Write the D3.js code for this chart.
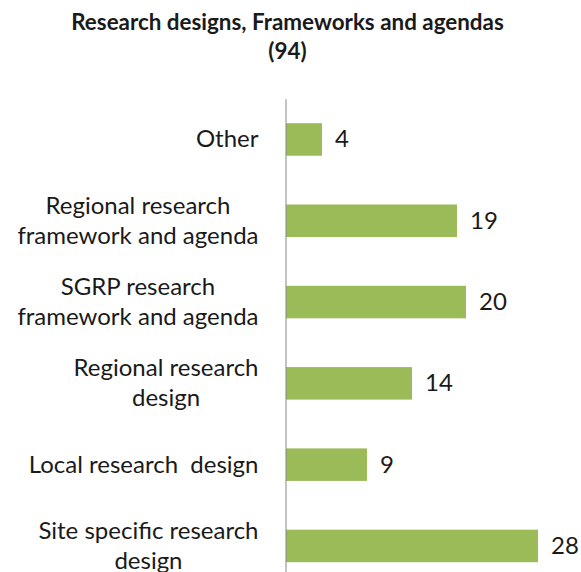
<!DOCTYPE html>
<html>
<head>
<meta charset="utf-8">
<script src="https://cdn.jsdelivr.net/npm/d3@7"></script>
<style>
  html, body { margin: 0; padding: 0; background: #fff; }
  svg { display: block; }
  text { font-family: Lato, "Open Sans", sans-serif; fill: #1a1a1a; }
</style>
</head>
<body>
<svg id="chart" width="581" height="572"></svg>
<script>
// Chart title (two lines)
const titleLines = ["Research designs, Frameworks and agendas", "(94)"];

// Categories, top to bottom; "\n" marks a line break in the axis label
const categories = [
  "Other",
  "Regional research\nframework and agenda",
  "SGRP research\nframework and agenda",
  "Regional research\ndesign",
  "Local research  design",
  "Site specific research\ndesign"
];

// Number of items per category
const counts = [4, 19, 20, 14, 9, 28];

const xDomainMax = 30;

const svg = d3.select("#chart");
const W = 581;

const plot = { left: 286, right: 556, top: 98.8, bottom: 586.6 };

const x = d3.scaleLinear().domain([0, xDomainMax]).range([plot.left, plot.right]);
const y = d3.scaleBand()
  .domain(categories)
  .range([plot.top, plot.bottom])
  .paddingInner(0.6)
  .paddingOuter(0.3);

// Title
svg.append("g")
  .selectAll("text")
  .data(titleLines)
  .join("text")
  .attr("x", W / 2 - 3)
  .attr("y", (d, i) => 30 + i * 29)
  .attr("text-anchor", "middle")
  .style("font-size", "22.4px")
  .style("font-weight", "bold")
  .text(d => d);

// Bars
svg.append("g")
  .selectAll("rect")
  .data(categories.map((c, i) => ({ cat: c, value: counts[i] })))
  .join("rect")
  .attr("x", x(0))
  .attr("y", d => y(d.cat))
  .attr("width", d => x(d.value) - x(0))
  .attr("height", y.bandwidth())
  .attr("fill", "#9bbb59");

// Value labels
svg.append("g")
  .selectAll("text")
  .data(categories.map((c, i) => ({ cat: c, value: counts[i] })))
  .join("text")
  .attr("x", d => x(d.value) + 13)
  .attr("y", d => y(d.cat) + y.bandwidth() / 2)
  .attr("dy", "0.33em")
  .style("font-size", "24px")
  .text(d => d.value);

// Category axis: plain vertical line, no ticks, wrapped labels
const pad = 27;
const axis = d3.axisLeft(y).tickSize(0).tickPadding(pad);
const axisG = svg.append("g")
  .attr("transform", `translate(${x(0) - 0.5},0)`)
  .call(axis);

axisG.select(".domain")
  .attr("stroke", "#868686")
  .attr("stroke-width", 1);

// Each label block is right-aligned to the axis; its lines are centred on one another
axisG.selectAll(".tick text")
  .style("font-size", "24px")
  .style("font-family", "Lato, 'Open Sans', sans-serif")
  .attr("fill", "#1a1a1a")
  .each(function (d) {
    const t = d3.select(this);
    const lines = d.split("\n");
    t.text(null).attr("dy", null).attr("x", null);
    const lh = 30;
    const start = -(lines.length - 1) * lh / 2;
    const spans = lines.map((line, i) =>
      t.append("tspan")
        .attr("y", start + i * lh)
        .attr("dy", "0.33em")
        .style("white-space", "pre")
        .text(line)
    );
    const widest = d3.max(spans, s => s.node().getComputedTextLength());
    t.attr("text-anchor", "middle");
    spans.forEach(s => s.attr("x", -pad - widest / 2));
  });
</script>
</body>
</html>
